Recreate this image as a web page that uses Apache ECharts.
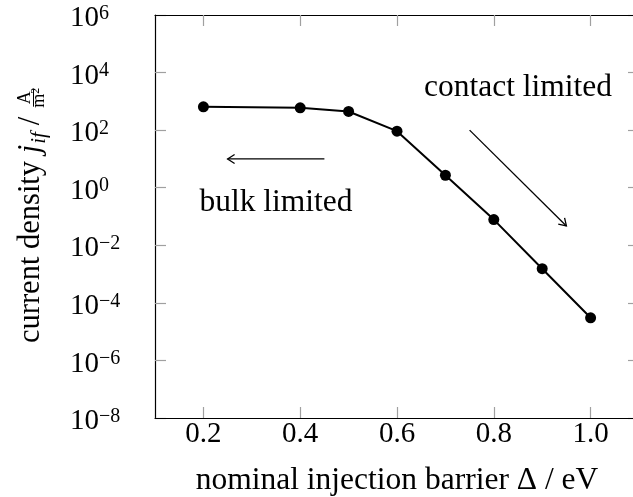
<!DOCTYPE html>
<html>
<head>
<meta charset="utf-8">
<script src="https://cdn.jsdelivr.net/npm/echarts@6/dist/echarts.min.js"></script>
<style>
  html, body { margin: 0; padding: 0; background: #fff; overflow: hidden; }
  /* the frame's right edge runs just past the visible page */
  #chart { width: 645px; height: 497px; }
</style>
</head>
<body>
<div id="chart"></div>
<script>
// Injection barrier sweep (eV) and the resulting current density (A/m^2)
const barrier = [0.2, 0.4, 0.5, 0.6, 0.7, 0.8, 0.9, 1.0];
const currentDensity = [645, 595, 446, 92, 2.71, 0.078, 0.00154, 3.03e-5];

// Axis ticks
const xTickValues = [0.2, 0.4, 0.6, 0.8, 1.0];
const yTickExponents = [-8, -6, -4, -2, 0, 2, 4, 6];

// Regime annotations (data units)
const arrowStart = [[0.45, 10], [0.75, 100]];
const arrowEnd = [[0.25, 10], [0.95, 0.047]];
const regimeLabels = ['bulk limited', 'contact limited'];
const regimeLabelPos = [[0.35, 0.29], [0.85, 2900]];

const FAMILY = '"Liberation Serif", "Times New Roman", serif';
const FS_TICK = 29;
const FS_TEXT = 31.5;
const FS_YTITLE = 30.5;
const TICK_COLOR = '#a0a0a0';

const yTickValues = yTickExponents.map(e => Math.pow(10, e));

function supText(e) {
  return e < 0 ? '\u2212' + (-e) : String(e);
}

// Rotated y-axis title: "current density j_if / A/m²"
function buildYTitle() {
  const ctx = document.createElement('canvas').getContext('2d');
  const measure = (t, font) => { ctx.font = font; return ctx.measureText(t).width; };
  const font = (size, italic) => (italic ? 'italic ' : '') + size + 'px ' + FAMILY;
  // place text so that its alphabetic baseline sits at `base`
  const txt = (t, x, base, size, italic, align) => ({
    type: 'text', x: x, y: base - 0.3375 * size,
    style: { text: t, font: font(size, italic), fill: '#000', align: align || 'left', verticalAlign: 'middle' }
  });
  const S = FS_YTITLE;
  const kids = [];
  let x = 0;
  const main = 'current density';
  kids.push(txt(main, x, 0, S, false));
  x += measure(main, font(S)) + measure(' ', font(S));
  kids.push(txt('j', x, 0, S, true));
  x += measure('j', font(S, true)) + 1;
  kids.push(txt('if', x, 6, 21, true));
  x += measure('if', font(21, true)) + 7;
  kids.push(txt('/', x, 0, S, false));
  x += measure('/', font(S)) + 10;
  // fraction A over m²
  const fw = 18, axisY = -7.5;
  kids.push({ type: 'line', shape: { x1: x, y1: axisY, x2: x + fw, y2: axisY }, style: { stroke: '#000', lineWidth: 1 } });
  kids.push(txt('A', x + fw / 2, axisY - 2.5, 18, false, 'center'));
  const mW = measure('m', font(18));
  const twoW = measure('2', font(12));
  const mx = x + (fw - mW - twoW) / 2;
  kids.push(txt('m', mx, axisY + 12, 18, false));
  kids.push(txt('2', mx + mW, axisY + 6.5, 12, false));
  return { type: 'group', x: 41, y: 343, rotation: Math.PI / 2, children: kids };
}

function renderArrow(params, api) {
  const p0 = api.coord([api.value(0), api.value(1)]);
  const p1 = api.coord([api.value(2), api.value(3)]);
  const ang = Math.atan2(p1[1] - p0[1], p1[0] - p0[0]);
  const c = Math.cos(ang), s = Math.sin(ang);
  const back = 7, half = 4.5;
  const a1 = [p1[0] - back * c + half * s, p1[1] - back * s - half * c];
  const a2 = [p1[0] - back * c - half * s, p1[1] - back * s + half * c];
  return {
    type: 'group',
    children: [
      { type: 'line', shape: { x1: p0[0], y1: p0[1], x2: p1[0], y2: p1[1] }, style: { stroke: '#000', lineWidth: 1.3 } },
      { type: 'polyline', shape: { points: [a1, p1, a2] }, style: { stroke: '#000', fill: null, lineWidth: 1.3 } }
    ]
  };
}

function renderRegimeLabel(params, api) {
  const p = api.coord([api.value(0), api.value(1)]);
  return {
    type: 'text', x: p[0], y: p[1],
    style: { text: regimeLabels[params.dataIndex], font: FS_TEXT + 'px ' + FAMILY, fill: '#000', align: 'center', verticalAlign: 'middle' }
  };
}

const frameLine = () => ({ show: true, onZero: false, lineStyle: { color: '#000', width: 1.2 } });
const tickStyle = (values) => ({ show: true, inside: true, length: 11, customValues: values, lineStyle: { color: TICK_COLOR, width: 1.2 } });

const chart = echarts.init(document.getElementById('chart'), null, { renderer: 'canvas' });
chart.setOption({
  animation: false,
  backgroundColor: '#fff',
  grid: { left: 155, top: 15, width: 484, height: 403, containLabel: false, outerBoundsMode: 'none' },
  xAxis: [
    {
      type: 'value', position: 'bottom', min: 0.1, max: 1.1, z: 2,
      axisLine: frameLine(),
      axisTick: tickStyle(xTickValues),
      axisLabel: {
        customValues: xTickValues, margin: 2,
        formatter: v => v.toFixed(1),
        fontFamily: FAMILY, fontSize: FS_TICK, color: '#000'
      },
      splitLine: { show: false },
      name: 'nominal injection barrier \u0394 / eV',
      nameLocation: 'middle', nameGap: 47,
      nameTextStyle: { fontFamily: FAMILY, fontSize: FS_TEXT, color: '#000' }
    },
    {
      type: 'value', position: 'top', min: 0.1, max: 1.1, z: 2,
      axisLine: frameLine(),
      axisTick: tickStyle(xTickValues),
      axisLabel: { show: false },
      splitLine: { show: false }
    }
  ],
  yAxis: [
    {
      type: 'log', logBase: 10, position: 'left', min: 1e-8, max: 1e6, z: 1,
      axisLine: frameLine(),
      axisTick: tickStyle(yTickValues),
      axisLabel: {
        customValues: yTickValues, margin: 85, align: 'left',
        padding: [7, 0, 0, 0],
        formatter: v => '{b|10}{s|' + supText(Math.round(Math.log10(v))) + '}',
        rich: {
          b: { fontFamily: FAMILY, fontSize: FS_TICK, lineHeight: 30, color: '#000' },
          s: { fontFamily: FAMILY, fontSize: 20, lineHeight: 20, color: '#000', verticalAlign: 'top' }
        }
      },
      splitLine: { show: false }
    },
    {
      type: 'log', logBase: 10, position: 'right', min: 1e-8, max: 1e6, z: 1,
      axisLine: frameLine(),
      axisTick: tickStyle(yTickValues),
      axisLabel: { show: false },
      splitLine: { show: false }
    }
  ],
  graphic: { elements: [buildYTitle()] },
  series: [
    {
      type: 'line',
      data: barrier.map((b, i) => [b, currentDensity[i]]),
      symbol: 'circle', symbolSize: 11,
      lineStyle: { color: '#000', width: 2 },
      itemStyle: { color: '#000' },
      z: 3
    },
    {
      type: 'custom',
      renderItem: renderArrow,
      data: arrowStart.map((s, i) => [s[0], s[1], arrowEnd[i][0], arrowEnd[i][1]]),
      clip: false, silent: true, z: 4
    },
    {
      type: 'custom',
      renderItem: renderRegimeLabel,
      data: regimeLabelPos,
      clip: false, silent: true, z: 4
    }
  ]
});
</script>
</body>
</html>
